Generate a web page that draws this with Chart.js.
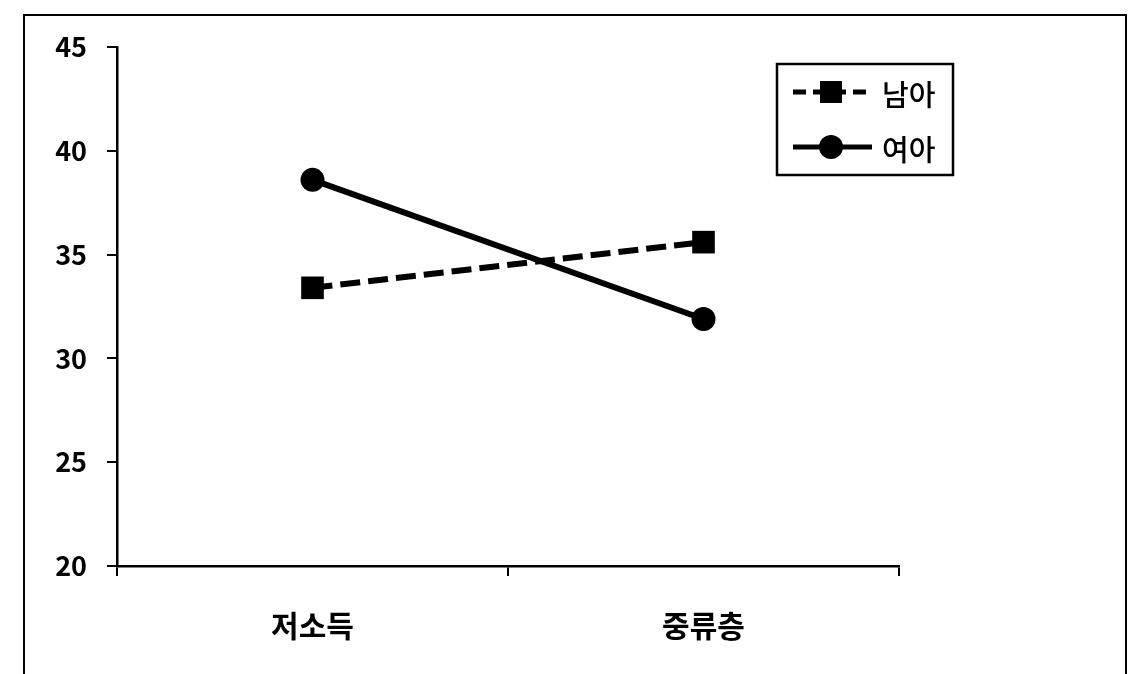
<!DOCTYPE html>
<html>
<head>
  <meta charset="utf-8">
  <title>저소득 / 중류층 남아 여아</title>
  <script src="https://cdn.jsdelivr.net/npm/chart.js"></script>
  <style>
    body { margin: 0; background: #fff; }
    #wrap { position: relative; width: 1137px; height: 674px; overflow: hidden; }
    #frame { position: absolute; left: 23px; top: 14px; width: 1100px; height: 700px;
             border: 2px solid #000; border-bottom: none; }
    canvas { position: absolute; left: 0; top: 0; }
  </style>
</head>
<body>
  <div id="wrap">
    <canvas id="chart" width="1137" height="674"></canvas>
    <div id="frame"></div>
  </div>

  <script>
    var categories = ["저소득", "중류층"];
    var boys = [33.4, 35.6];
    var girls = [38.6, 31.9];
    var yTicks = [20, 25, 30, 35, 40, 45];

    var FONT = "'Noto Sans CJK KR', 'Noto Sans', sans-serif";

    // legend box drawn inside the plot, like the original
    var boxLegend = {
      id: 'boxLegend',
      afterDraw: function(chart) {
        var ctx = chart.ctx;
        var x0 = 777, y0 = 64, w = 176, h = 111;
        ctx.save();
        ctx.fillStyle = '#fff';
        ctx.fillRect(x0, y0, w, h);
        ctx.lineWidth = 2.5;
        ctx.strokeStyle = '#000';
        ctx.strokeRect(x0, y0, w, h);
        chart.data.datasets.forEach(function(ds, i) {
          var y = [92, 147][i];
          ctx.beginPath();
          ctx.setLineDash(ds.borderDash ? [13, 7] : []);
          ctx.lineWidth = ds.borderWidth - 1;
          ctx.moveTo(793, y);
          ctx.lineTo(872, y);
          ctx.stroke();
          ctx.setLineDash([]);
          ctx.fillStyle = '#000';
          if (ds.pointStyle === 'rect') {
            ctx.fillRect(820, y - 11, 22, 22);
          } else {
            ctx.beginPath();
            ctx.arc(831, y, 12, 0, Math.PI * 2);
            ctx.fill();
          }
          ctx.font = '500 29px ' + FONT;
          ctx.textBaseline = 'middle';
          ctx.textAlign = 'left';
          ctx.fillText(ds.label, 882, y + 3);
        });
        ctx.restore();
      }
    };

    new Chart(document.getElementById('chart'), {
      type: 'line',
      data: {
        labels: categories,
        datasets: [
          { label: '남아', data: boys, borderColor: '#000', backgroundColor: '#000',
            borderWidth: 6, borderDash: [20, 8], pointStyle: 'rect', pointRadius: 16,
            pointBackgroundColor: '#000', pointBorderWidth: 0, tension: 0 },
          { label: '여아', data: girls, borderColor: '#000', backgroundColor: '#000',
            borderWidth: 6, pointStyle: 'circle', pointRadius: 12,
            pointBackgroundColor: '#000', pointBorderWidth: 0, tension: 0 }
        ]
      },
      options: {
        responsive: false,
        animation: false,
        devicePixelRatio: 1,
        layout: { padding: { left: 0, right: 238, top: 47, bottom: 0 } },
        plugins: { legend: { display: false }, tooltip: { enabled: false } },
        scales: {
          x: {
            offset: true,
            grid: { offset: true, drawOnChartArea: false, color: '#000', tickLength: 10, lineWidth: 2 },
            border: { color: '#000', width: 2.5 },
            ticks: { color: '#000', padding: 32, font: { family: FONT, size: 30, weight: 'bold' } },
            afterFit: function(s) { s.height = 108; }
          },
          y: {
            min: 20, max: 45,
            afterBuildTicks: function(s) { s.ticks = yTicks.map(function(v) { return { value: v }; }); },
            grid: { drawOnChartArea: false, color: '#000', tickLength: 10, lineWidth: 2 },
            border: { color: '#000', width: 2.5 },
            ticks: { color: '#000', padding: 20, font: { family: FONT, size: 27, weight: 'bold' } },
            afterFit: function(s) { s.width = 117; }
          }
        }
      },
      plugins: [boxLegend]
    });
  </script>
</body>
</html>
